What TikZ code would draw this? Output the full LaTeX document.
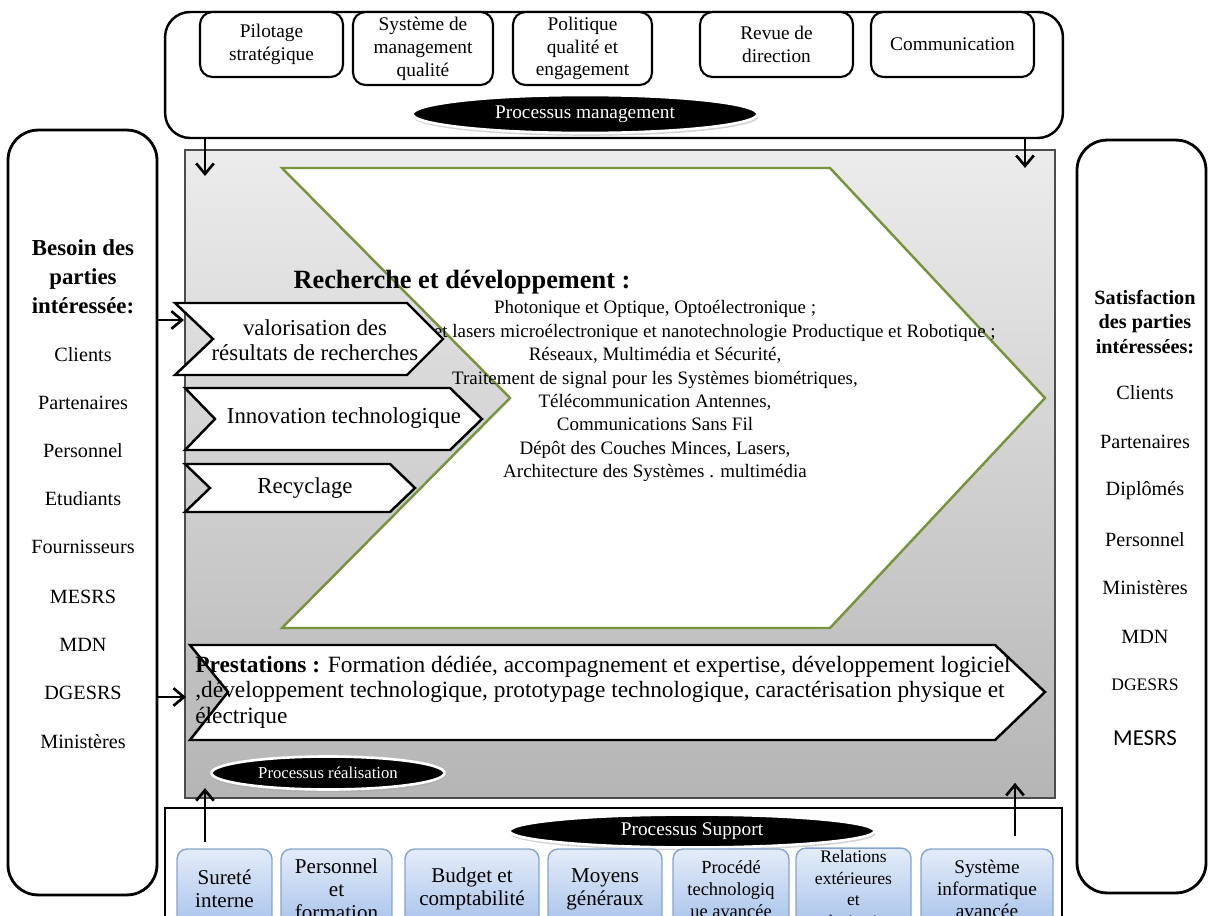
\documentclass[tikz,border=0pt]{standalone}
\usepackage{fontspec}
\setmainfont{Liberation Serif}
\newfontfamily\calibri{Carlito}
\usetikzlibrary{arrows.meta,shapes.geometric,shadows}

\definecolor{rdgreen}{HTML}{77933C}
\definecolor{sboxtop}{HTML}{E4EDF9}
\definecolor{sboxbot}{HTML}{A6C1EA}
\definecolor{sboxline}{HTML}{86A3CF}

\tikzset{
  mbox/.style={draw, line width=1.2pt, rounded corners=0.25cm, fill=white, align=center, inner sep=1pt, font=\fontsize{11}{13}\selectfont},
  bigbox/.style={draw, line width=1.6pt, rounded corners=0.6cm, fill=white},
  procell/.style={ellipse, fill=black, draw=white, line width=1.5pt, text=white, inner sep=0pt, drop shadow={shadow xshift=0.6pt, shadow yshift=-1.6pt, fill=gray!70}},
  sbox/.style={draw=sboxline, line width=0.8pt, rounded corners=0.2cm, top color=sboxtop, bottom color=sboxbot, align=center, inner sep=1pt, minimum height=1.6cm},
  chev/.style={draw, line width=1.4pt, fill=white, line join=miter},
  arr/.style={-{Straight Barb[length=6pt,width=10pt]}, line width=1.5pt},
  head/.style={align=center, font=\bfseries\fontsize{13}{16.5}\selectfont},
  item/.style={font=\fontsize{11.5}{13}\selectfont},
  rdtxt/.style={font=\fontsize{10.8}{13.3}\selectfont, inner sep=0pt},
  chevtxt/.style={align=center, font=\fontsize{13}{14.2}\selectfont, inner sep=0pt}
}

\begin{document}
\begin{tikzpicture}[x=0.02cm, y=-0.02cm]
\clip (0,0) rectangle (1208,916);
\fill[white] (0,0) rectangle (1208,916);

% processus management
\node[bigbox, line width=1.4pt, rounded corners=0.5cm, minimum width=17.96cm, minimum height=2.52cm] (mgmt) at (614,75) {};
\node[mbox, minimum width=2.86cm, minimum height=1.3cm] (pilot) at (271.5,44.5) {Pilotage\\stratégique};
\node[mbox, minimum width=2.8cm, minimum height=1.46cm] (smq) at (423,48.5) {Système de\\management\\qualité};
\node[mbox, minimum width=2.78cm, minimum height=1.46cm] (polit) at (582.5,48.5) {Politique\\qualité et\\engagement};
\node[mbox, minimum width=3.06cm, minimum height=1.3cm] (revue) at (776.5,44.5) {Revue de\\direction};
\node[mbox, minimum width=3.26cm, minimum height=1.3cm] (comm) at (952.5,44.5) {Communication};
\node[procell, minimum width=6.9cm, minimum height=0.76cm, font=\fontsize{11}{13}\selectfont] (emgmt) at (585,114) {Processus management};

% parties interessees
\node[bigbox, minimum width=2.98cm, minimum height=15.3cm] (besoin) at (82.5,512.5) {};
\node[head] (bhead) at (83,277) {Besoin des\\parties\\intéressée:};
\node[item] (bcli) at (83,355) {Clients};
\node[item] (bpart) at (83,403) {Partenaires};
\node[item] (bpers) at (83,451) {Personnel};
\node[item] (betud) at (83,499) {Etudiants};
\node[item] (bfour) at (83,547) {Fournisseurs};
\node[item] (bmesrs) at (83,597) {MESRS};
\node[item] (bmdn) at (83,645) {MDN};
\node[item] (bdg) at (83,693) {DGESRS};
\node[item] (bmin) at (83,742) {Ministères};

\node[bigbox, minimum width=2.58cm, minimum height=15.06cm] (satisf) at (1141.5,516.5) {};
\node[head, font=\bfseries\fontsize{11.5}{14.2}\selectfont] (shead) at (1145,322) {Satisfaction\\des parties\\intéressées:};
\node[item] (scli) at (1145,393) {Clients};
\node[item] (spart) at (1145,442) {Partenaires};
\node[item] (sdipl) at (1145,491) {Diplômés};
\node[item] (spers) at (1145,540) {Personnel};
\node[item] (smin) at (1145,588) {Ministères};
\node[item] (smdn) at (1145,637) {MDN};
\node[item, font=\fontsize{10}{12}\selectfont] (sdg) at (1145,685) {DGESRS};
\node[item, font=\calibri\fontsize{13}{15}\selectfont] (smesrs) at (1145,738) {MESRS};

% processus realisation
\node[draw=black!70, line width=0.8pt, top color=gray!15, bottom color=gray!58, minimum width=17.4cm, minimum height=12.96cm] (realis) at (620,474) {};
\draw[rdgreen, line width=1.4pt, fill=white] (282,168) -- (830,168) -- (1045,398) -- (830,628) -- (282,628) -- (510,398) -- cycle;
\node[font=\bfseries\fontsize{15}{18}\selectfont] (rdhead) at (462,282) {Recherche et développement :};
\node[rdtxt] (rd1) at (655,309) {Photonique et Optique, Optoélectronique ;};
\node[rdtxt, anchor=east] (rd2) at (996,333) {et lasers microélectronique et nanotechnologie Productique et Robotique ;};
\node[rdtxt, align=center] (rd3) at (655,414.5) {Réseaux, Multimédia et Sécurité,\\Traitement de signal pour les Systèmes biométriques,\\Télécommunication Antennes,\\Communications Sans Fil\\Dépôt des Couches Minces, Lasers,\\Architecture des Systèmes . multimédia};

\draw[chev] (175,303) -- (407,303) -- (443,339) -- (407,375) -- (175,375) -- (213,339) -- cycle;
\node[chevtxt] (valo) at (315,340.5) {valorisation des\\résultats de recherches};
\draw[chev] (185,388) -- (450,388) -- (482,419) -- (450,450) -- (185,450) -- (215,419) -- cycle;
\node[chevtxt] (innov) at (344,418) {Innovation technologique};
\draw[chev] (185,464) -- (390,464) -- (415,488) -- (390,512) -- (185,512) -- (210,488) -- cycle;
\node[chevtxt] (recyc) at (305,488) {Recyclage};

\draw[chev] (190,645) -- (995,645) -- (1045,692) -- (995,740) -- (190,740) -- (228,692) -- cycle;
\node[anchor=west, align=left, inner sep=0pt, font=\fontsize{13.3}{14.5}\selectfont] (prest) at (195,692) {\textbf{Prestations :} Formation dédiée, accompagnement et expertise, développement logiciel\\,développement technologique, prototypage technologique, caractérisation physique et\\électrique};
\node[procell, minimum width=4.66cm, minimum height=0.66cm, font=\fontsize{9.5}{11}\selectfont] (ereal) at (328,773) {Processus réalisation};

% processus support
\node[draw, line width=1.4pt, fill=white, minimum width=17.94cm, minimum height=2.64cm] (support) at (613.5,874) {};
\node[procell, minimum width=7.3cm, minimum height=0.66cm, font=\fontsize{11}{13}\selectfont] (esupp) at (692,831) {Processus Support};
\node[sbox, minimum width=1.9cm, font=\fontsize{12}{13}\selectfont] (surete) at (224.5,889) {Sureté\\interne};
\node[sbox, minimum width=2.22cm, font=\fontsize{12}{13}\selectfont] (perso) at (336.5,889) {Personnel\\et\\formation};
\node[sbox, minimum width=2.68cm, font=\fontsize{12}{13}\selectfont] (budget) at (472,889) {Budget et\\comptabilité};
\node[sbox, minimum width=2.28cm, font=\fontsize{12}{13}\selectfont] (moyens) at (605,889) {Moyens\\généraux};
\node[sbox, minimum width=2.32cm, font=\fontsize{10.5}{12.5}\selectfont] (procede) at (731,889) {Procédé\\technologiq\\ue avancée};
\node[sbox, minimum width=2.3cm, font=\fontsize{10}{12.5}\selectfont] (relext) at (853.5,889) {Relations\\extérieures\\et\\valorisation};
\node[sbox, minimum width=2.64cm, font=\fontsize{11}{12.5}\selectfont] (sysinfo) at (987,889) {Système\\informatique\\avancée};

% fleches
\coordinate (ta1) at (205,176);
\coordinate (ta2) at (1025,168);
\draw[arr] (mgmt.south -| ta1) -- (ta1);
\draw[arr] (mgmt.south -| ta2) -- (ta2);
\coordinate (ia1) at (184,320);
\coordinate (ia2) at (186,697);
\draw[arr] (besoin.east |- ia1) -- (ia1);
\draw[arr] (besoin.east |- ia2) -- (ia2);
\coordinate (ua1) at (205,842);
\coordinate (ua2) at (1015,836);
\draw[arr] (ua1) -- ([yshift=6pt]realis.south -| ua1);
\draw[arr] (ua2) -- ([yshift=9pt]realis.south -| ua2);
\end{tikzpicture}
\end{document}
